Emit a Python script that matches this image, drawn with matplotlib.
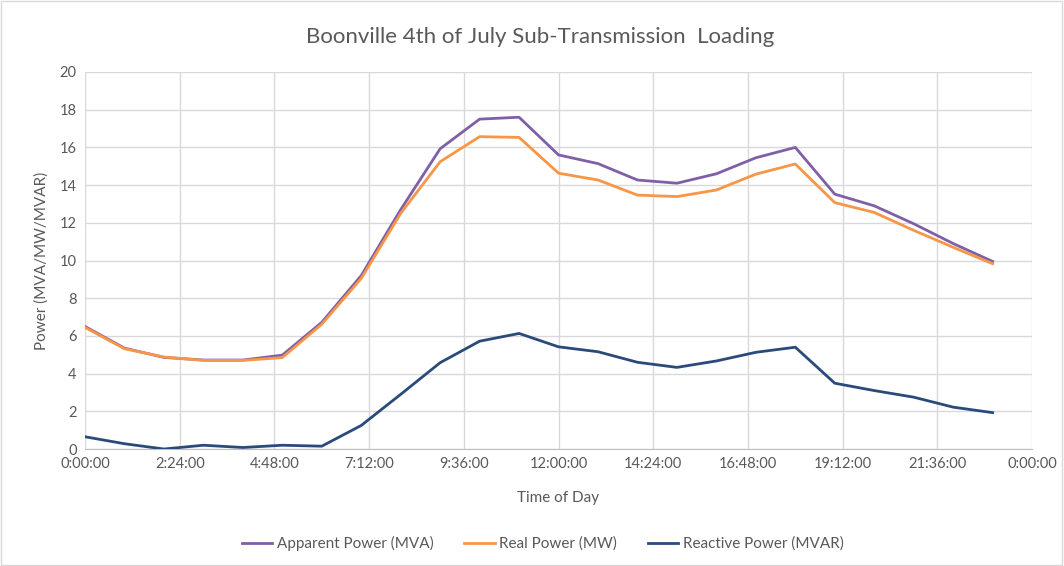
import numpy as np
import matplotlib
matplotlib.use('Agg')
import matplotlib.pyplot as plt
from matplotlib.patches import Rectangle

plt.rcParams['font.family'] = ['Lato', 'DejaVu Sans']

# hourly readings, 0:00 .. 23:00
hours = list(range(24))
apparent_mva = [6.5, 5.35, 4.86, 4.72, 4.72, 4.98, 6.72, 9.2, 12.7, 15.93, 17.5, 17.6,
                15.6, 15.14, 14.27, 14.1, 14.6, 15.45, 16.0, 13.52, 12.9, 11.95, 10.9, 9.95]
real_mw = [6.45, 5.32, 4.88, 4.7, 4.7, 4.85, 6.62, 9.05, 12.5, 15.24, 16.57, 16.53,
           14.63, 14.27, 13.47, 13.39, 13.74, 14.58, 15.12, 13.07, 12.55, 11.6, 10.7, 9.83]
reactive_mvar = [0.65, 0.28, 0.0, 0.2, 0.08, 0.2, 0.15, 1.25, 2.9, 4.58, 5.72, 6.13,
                 5.42, 5.16, 4.6, 4.33, 4.67, 5.13, 5.4, 3.49, 3.1, 2.75, 2.22, 1.93]

x_ticks = [0, 0.1, 0.2, 0.3, 0.4, 0.5, 0.6, 0.7, 0.8, 0.9, 1.0]   # fraction of a day
x_tick_labels = ['0:00:00', '2:24:00', '4:48:00', '7:12:00', '9:36:00', '12:00:00',
                 '14:24:00', '16:48:00', '19:12:00', '21:36:00', '0:00:00']

x = np.array(hours) / 24.0
text_col = '#595959'
grid_col = '#D9D9D9'

fig = plt.figure(figsize=(10.64, 5.66), dpi=100)
ax = fig.add_axes([0.0799, 0.2067, 0.8901, 0.6661])

ax.plot(x, apparent_mva, color='#7F60A8', lw=2.0, label='Apparent Power (MVA)', zorder=3)
ax.plot(x, real_mw, color='#F79646', lw=2.0, label='Real Power (MW)', zorder=4)
ax.plot(x, reactive_mvar, color='#2A4A7A', lw=2.0, label='Reactive Power (MVAR)', zorder=3)

ax.set_xlim(0, 1)
ax.set_ylim(0, 20)
ax.set_xticks(x_ticks)
ax.set_xticklabels(x_tick_labels)
ax.set_yticks(range(0, 21, 2))
ax.grid(True, color=grid_col, lw=1.0)
ax.set_axisbelow(True)
for s in ['top', 'right', 'left']:
    ax.spines[s].set_visible(False)
ax.spines['bottom'].set_color('#BFBFBF')
ax.tick_params(length=0, labelsize=10.5, colors=text_col, pad=6)

ax.set_xlabel('Time of Day', fontsize=11, color=text_col, labelpad=14)
ax.set_ylabel('Power (MVA/MW/MVAR)', fontsize=11, color=text_col, labelpad=8)
fig.text(0.508, 0.934, 'Boonville 4th of July Sub-Transmission  Loading',
         ha='center', va='center', fontsize=16, color=text_col)

fig.legend(loc='center', bbox_to_anchor=(0.51, 0.04), ncol=3, frameon=False,
           fontsize=11, labelcolor=text_col, handlelength=2.0, columnspacing=2.0,
           handletextpad=0.3)

# outer chart border
fig.patches.append(Rectangle((0.001, 0.002), 0.997, 0.996, transform=fig.transFigure,
                             fill=False, edgecolor='#D9D9D9', lw=1.0))

fig.savefig('out.png', dpi=100)
